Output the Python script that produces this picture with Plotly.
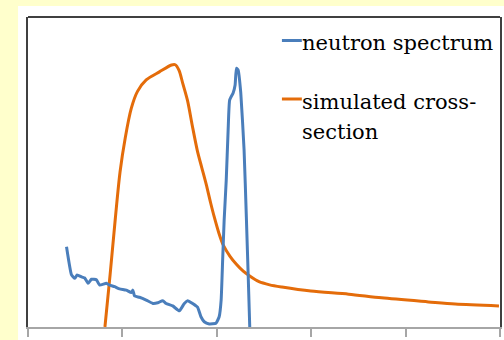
import plotly.graph_objects as go

# ---- data (x in axis units 0..5, y in % of axis height) ----
spectrum_x = [0.408, 0.461, 0.496, 0.520, 0.566, 0.601, 0.636, 0.672, 0.725, 0.759,
              0.830, 0.865, 0.918, 0.970, 1.041, 1.094, 1.111, 1.129, 1.181, 1.252,
              1.322, 1.374, 1.427, 1.463, 1.533, 1.603, 1.656, 1.691, 1.744, 1.796,
              1.832, 1.867, 1.920, 1.991, 2.025, 2.046, 2.062, 2.078, 2.100, 2.120,
              2.136, 2.173, 2.194, 2.208, 2.226, 2.254, 2.289, 2.313, 2.335, 2.349]
spectrum_y = [25.9, 16.8, 15.7, 16.8, 16.2, 15.8, 14.1, 15.4, 15.2, 13.5,
              14.1, 13.5, 13.0, 12.3, 11.9, 11.1, 11.9, 10.0, 9.6, 8.7,
              7.6, 7.8, 8.5, 7.6, 6.8, 5.2, 7.6, 8.5, 7.6, 6.4,
              3.3, 1.7, 1.0, 1.2, 3.3, 8.7, 21.6, 34.5, 47.4, 63.5,
              73.2, 75.5, 78.1, 83.5, 82.9, 75.5, 57.1, 35.5, 14.2, 0.0]

xs_x = [0.815, 0.870, 0.925, 0.975, 1.030, 1.094, 1.160, 1.252, 1.392, 1.520,
        1.560, 1.600, 1.640, 1.690, 1.740, 1.793, 1.840, 1.888, 1.935, 1.973,
        2.020, 2.070, 2.140, 2.205, 2.280, 2.342, 2.447, 2.560, 2.690, 2.996,
        3.397, 3.745, 4.241, 4.525, 4.989]
xs_y = [0.0, 17.0, 35.0, 50.0, 61.0, 70.5, 76.0, 79.7, 82.3, 84.5,
        84.6, 82.8, 78.5, 73.0, 65.0, 57.0, 51.5, 46.0, 40.0, 35.5,
        30.5, 26.3, 22.8, 20.3, 18.0, 16.6, 14.6, 13.6, 12.9, 11.6,
        10.6, 9.4, 8.1, 7.4, 6.8]

x_ticks = [0, 1, 2, 3, 4, 5]
legend_labels = ["neutron spectrum", "simulated cross-", "section"]

BLUE = "#4A7EBB"
ORANGE = "#E46C0A"
FONT = "DejaVu Serif"
FSIZE = 21

fig = go.Figure()
fig.add_trace(go.Scatter(x=xs_x, y=xs_y, mode="lines",
                         line=dict(color=ORANGE, width=3, shape="spline", smoothing=0.8),
                         showlegend=False))
fig.add_trace(go.Scatter(x=spectrum_x, y=spectrum_y, mode="lines",
                         line=dict(color=BLUE, width=3, shape="spline", smoothing=0.4),
                         showlegend=False))

W, H = 504, 340
L, R, T, B = 28, 2, 17, 13
pw, ph = W - L - R, H - T - B

def px(xpix):
    return (xpix - L) / pw

def py(ypix):
    return (H - B - ypix) / ph

shapes = [
    dict(type="rect", xref="paper", yref="paper", x0=px(18), x1=px(506),
         y0=py(342), y1=py(6), fillcolor="white", line=dict(width=0), layer="below"),
    dict(type="line", xref="paper", yref="paper", x0=0, x1=1, y0=1, y1=1,
         line=dict(color="#404040", width=2)),
    dict(type="line", xref="paper", yref="paper", x0=px(283), x1=px(303),
         y0=py(40.5), y1=py(40.5), line=dict(color=BLUE, width=3)),
    dict(type="line", xref="paper", yref="paper", x0=px(283), x1=px(303),
         y0=py(99), y1=py(99), line=dict(color=ORANGE, width=3)),
]

annotations = [
    dict(text=legend_labels[0], x=px(301), y=py(43), xref="paper", yref="paper",
         xanchor="left", yanchor="middle", showarrow=False,
         font=dict(family=FONT, size=FSIZE, color="black")),
    dict(text=legend_labels[1], x=px(301), y=py(102), xref="paper", yref="paper",
         xanchor="left", yanchor="middle", showarrow=False,
         font=dict(family=FONT, size=FSIZE, color="black")),
    dict(text=legend_labels[2], x=px(301), y=py(132), xref="paper", yref="paper",
         xanchor="left", yanchor="middle", showarrow=False,
         font=dict(family=FONT, size=FSIZE, color="black")),
]

fig.update_layout(
    width=W, height=H,
    margin=dict(l=L, r=R, t=T, b=B, pad=0),
    paper_bgcolor="#FFFFCC",
    plot_bgcolor="white",
    shapes=shapes,
    annotations=annotations,
    showlegend=False,
    xaxis=dict(range=[0, 5], tickvals=x_ticks, showticklabels=False,
               ticks="outside", ticklen=8, tickcolor="#A6A6A6", tickwidth=1.5,
               showline=True, linecolor="#A6A6A6", linewidth=1.5,
               showgrid=False, zeroline=False, fixedrange=True),
    yaxis=dict(range=[0, 100], showticklabels=False, ticks="",
               showline=True, linecolor="#404040", linewidth=2, mirror=True,
               showgrid=False, zeroline=False, fixedrange=True),
)

fig.write_html("out.html", config={"displayModeBar": False})
